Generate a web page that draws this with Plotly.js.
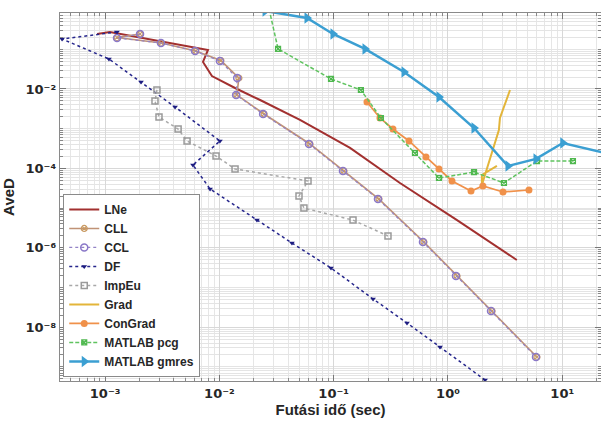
<!DOCTYPE html>
<html>
<head>
<meta charset="utf-8">
<script src="https://cdn.plot.ly/plotly-3.0.1.min.js"></script>
<style>html,body{margin:0;padding:0;background:#fff;}#chart{width:601px;height:429px;}</style>
</head>
<body>
<div id="chart"></div>
<script>
// ---- data ----
const seriesNames = ['LNe','CLL','CCL','DF','ImpEu','Grad','ConGrad','MATLAB pcg','MATLAB gmres'];

const lneX = [8.5e-4, 1.1e-3, 7.94e-3, 7.18e-3, 8.6e-3, 0.0137, 0.0227, 0.0507, 0.139, 0.380, 1.20, 4.0];
const lneY = [0.243, 0.273, 0.096, 0.0479, 0.0212, 0.0106, 5.28e-3, 1.66e-3, 3.27e-4, 4.29e-5, 5.0e-6, 4.93e-7];

const cllX = [2.02e-3, 1.27e-3, 3.1e-3, 6.2e-3, 0.0103, 0.0148, 0.0142, 0.0246, 0.0620, 0.123, 0.249, 0.616, 1.20, 2.43, 6.0];
const cllY = [0.243, 0.198, 0.144, 0.0906, 0.052, 0.0189, 7.06e-3, 2.34e-3, 4.12e-4, 8.61e-5, 1.69e-5, 1.40e-6, 1.95e-7, 2.56e-8, 1.77e-9];

const cclX = [2.02e-3, 1.27e-3, 3.08e-3, 6.12e-3, 0.0101, 0.0143, 0.0140, 0.0241, 0.0608, 0.1205, 0.244, 0.604, 1.175, 2.38, 5.89];
const cclY = [0.243, 0.193, 0.144, 0.0906, 0.0507, 0.0189, 7.06e-3, 2.34e-3, 4.12e-4, 8.61e-5, 1.69e-5, 1.40e-6, 1.95e-7, 2.56e-8, 1.77e-9];

const dfX = [1.27e-3, 4.2e-4, 1.08e-3, 2.06e-3, 4.09e-3, 0.0101, 5.87e-3, 8.28e-3, 0.0213, 0.0431, 0.0947, 0.221, 0.438, 0.851, 2.11];
const dfY = [0.273, 0.1816, 0.057, 0.015, 3.52e-3, 4.9e-4, 1.22e-4, 3.03e-5, 5.01e-6, 1.32e-6, 3.1e-7, 5.13e-8, 1.28e-8, 3.17e-9, 4.7e-10];

const impX = [2.84e-3, 2.73e-3, 2.96e-3, 4.35e-3, 5.21e-3, 9.34e-3, 0.0137, 0.0596, 0.0497, 0.0549, 0.1476, 0.2986];
const impY = [9.44e-3, 4.99e-3, 1.97e-3, 9.83e-4, 4.9e-4, 2.05e-4, 9.66e-5, 4.82e-5, 2.02e-5, 1.0e-5, 5.0e-6, 1.98e-6];

const gradX = [2.68, 1.98, 1.98, 2.33, 2.79, 2.85, 3.49];
const gradY = [1.15e-4, 6.82e-5, 3.82e-5, 1.63e-4, 9.27e-4, 1.86e-3, 9.44e-3];

const cgX = [0.1955, 0.254, 0.330, 0.456, 0.642, 0.834, 1.084, 1.59, 2.02, 3.03, 5.11];
const cgY = [4.71e-3, 1.86e-3, 9.83e-4, 4.9e-4, 1.94e-4, 9.66e-5, 4.82e-5, 2.70e-5, 3.6e-5, 2.55e-5, 2.86e-5];

const pcgX = [0.0272, 0.0326, 0.0947, 0.173, 0.259, 0.514, 0.834, 1.69, 3.09, 6.01, 12.4];
const pcgY = [1.03, 0.102, 0.0179, 9.44e-3, 1.86e-3, 2.44e-4, 5.73e-5, 8.1e-5, 4.29e-5, 1.53e-4, 1.53e-4];

const gmresX = [0.0251, 0.0584, 0.0986, 0.188, 0.412, 0.834, 1.69, 3.35, 5.89, 10.1, 23.6];
const gmresY = [0.92, 0.614, 0.243, 0.102, 0.0268, 6.28e-3, 1.04e-3, 1.15e-4, 1.73e-4, 4.37e-4, 2.44e-4];

const xTickVals = [1e-3, 1e-2, 1e-1, 1, 10];
const xTickText = ['10\u207B\u00B3', '10\u207B\u00B2', '10\u207B\u00B9', '10\u2070', '10\u00B9'];
const yTickVals = [1e-8, 1e-6, 1e-4, 1e-2];
const yTickText = ['10\u207B\u2078', '10\u207B\u2076', '10\u207B\u2074', '10\u207B\u00B2'];

// ---- traces ----
const traces = [
  {name: seriesNames[0], x: lneX, y: lneY, mode: 'lines',
   line: {color: '#a2302f', width: 2}},
  {name: seriesNames[1], x: cllX, y: cllY, mode: 'lines+markers',
   line: {color: '#c09276', width: 1.6},
   marker: {symbol: 'circle-x-open', size: 6, color: '#c99a62', line: {width: 1.2}}},
  {name: seriesNames[2], x: cclX, y: cclY, mode: 'lines+markers',
   line: {color: '#9383c6', width: 1.2, dash: 'dot'},
   marker: {symbol: 'circle-open', size: 7, color: '#8a78c8', line: {width: 1.5}}},
  {name: seriesNames[3], x: dfX, y: dfY, mode: 'lines+markers',
   line: {color: '#26268c', width: 1.5, dash: 'dot'},
   marker: {symbol: 'triangle-down', size: 5, color: '#1c1c80'}},
  {name: seriesNames[4], x: impX, y: impY, mode: 'lines+markers',
   line: {color: '#a8a8a8', width: 1.5, dash: 'dot'},
   marker: {symbol: 'square-open', size: 6, color: '#9a9a9a', line: {width: 1.5}}},
  {name: seriesNames[5], x: gradX, y: gradY, mode: 'lines',
   line: {color: '#e3b53a', width: 2}},
  {name: seriesNames[6], x: cgX, y: cgY, mode: 'lines+markers',
   line: {color: '#f0914a', width: 1.7},
   marker: {symbol: 'circle', size: 7, color: '#f0914a'}},
  {name: seriesNames[7], x: pcgX, y: pcgY, mode: 'lines+markers',
   line: {color: '#5fc35f', width: 1.5, dash: '4px,2px'},
   marker: {symbol: 'square-x-open', size: 5, color: '#4fb84f', line: {width: 1.2}}},
  {name: seriesNames[8], x: gmresX, y: gmresY, mode: 'lines+markers',
   line: {color: '#3b9fd2', width: 2.5},
   marker: {symbol: 'triangle-right', size: 10, color: '#3b9fd2'}}
];

const tickFont = {family: '"DejaVu Sans", Arial, sans-serif', size: 13, weight: 'bold', color: '#262626'};
const titleFont = {family: 'Arial, "Liberation Sans", sans-serif', size: 15, weight: 'bold', color: '#262626'};

const layout = {
  width: 601, height: 429,
  margin: {l: 60, r: 0, t: 13, b: 48},
  paper_bgcolor: '#ffffff', plot_bgcolor: '#ffffff',
  showlegend: true,
  xaxis: {
    type: 'log', range: [-3.395, 1.339],
    tickmode: 'array', tickvals: xTickVals, ticktext: xTickText,
    ticks: 'inside', ticklen: 6, tickcolor: '#777', tickwidth: 1,
    mirror: 'allticks', showline: true, linecolor: '#8a8a8a', linewidth: 1.2,
    showgrid: true, gridcolor: '#d8d8d8', gridwidth: 1, zeroline: false,
    minor: {ticks: 'inside', ticklen: 3, tickcolor: '#888', showgrid: true, gridcolor: '#e6e6e6', dtick: 'D1'},
    tickfont: tickFont,
    title: {text: 'Futási idő (sec)', font: titleFont, standoff: 4}
  },
  yaxis: {
    type: 'log', range: [-9.355, -0.086],
    tickmode: 'array', tickvals: yTickVals, ticktext: yTickText,
    ticks: 'inside', ticklen: 6, tickcolor: '#777', tickwidth: 1,
    mirror: 'allticks', showline: true, linecolor: '#8a8a8a', linewidth: 1.2,
    showgrid: true, gridcolor: '#d8d8d8', gridwidth: 1, zeroline: false,
    minor: {ticks: 'inside', ticklen: 3, tickcolor: '#888', showgrid: true, gridcolor: '#e4e4e4', dtick: 'D1'},
    tickfont: tickFont,
    title: {text: 'AveD', font: titleFont, standoff: 8}
  },
  legend: {
    x: 0.006, y: 0.011, xanchor: 'left', yanchor: 'bottom',
    bgcolor: '#ffffff', bordercolor: '#8a8a8a', borderwidth: 1,
    font: {family: 'Arial, "Liberation Sans", sans-serif', size: 12, weight: 'bold', color: '#262626'},
    itemwidth: 30, tracegroupgap: 0
  }
};

Plotly.newPlot('chart', traces, layout, {displayModeBar: false, staticPlot: true});
</script>
</body>
</html>
